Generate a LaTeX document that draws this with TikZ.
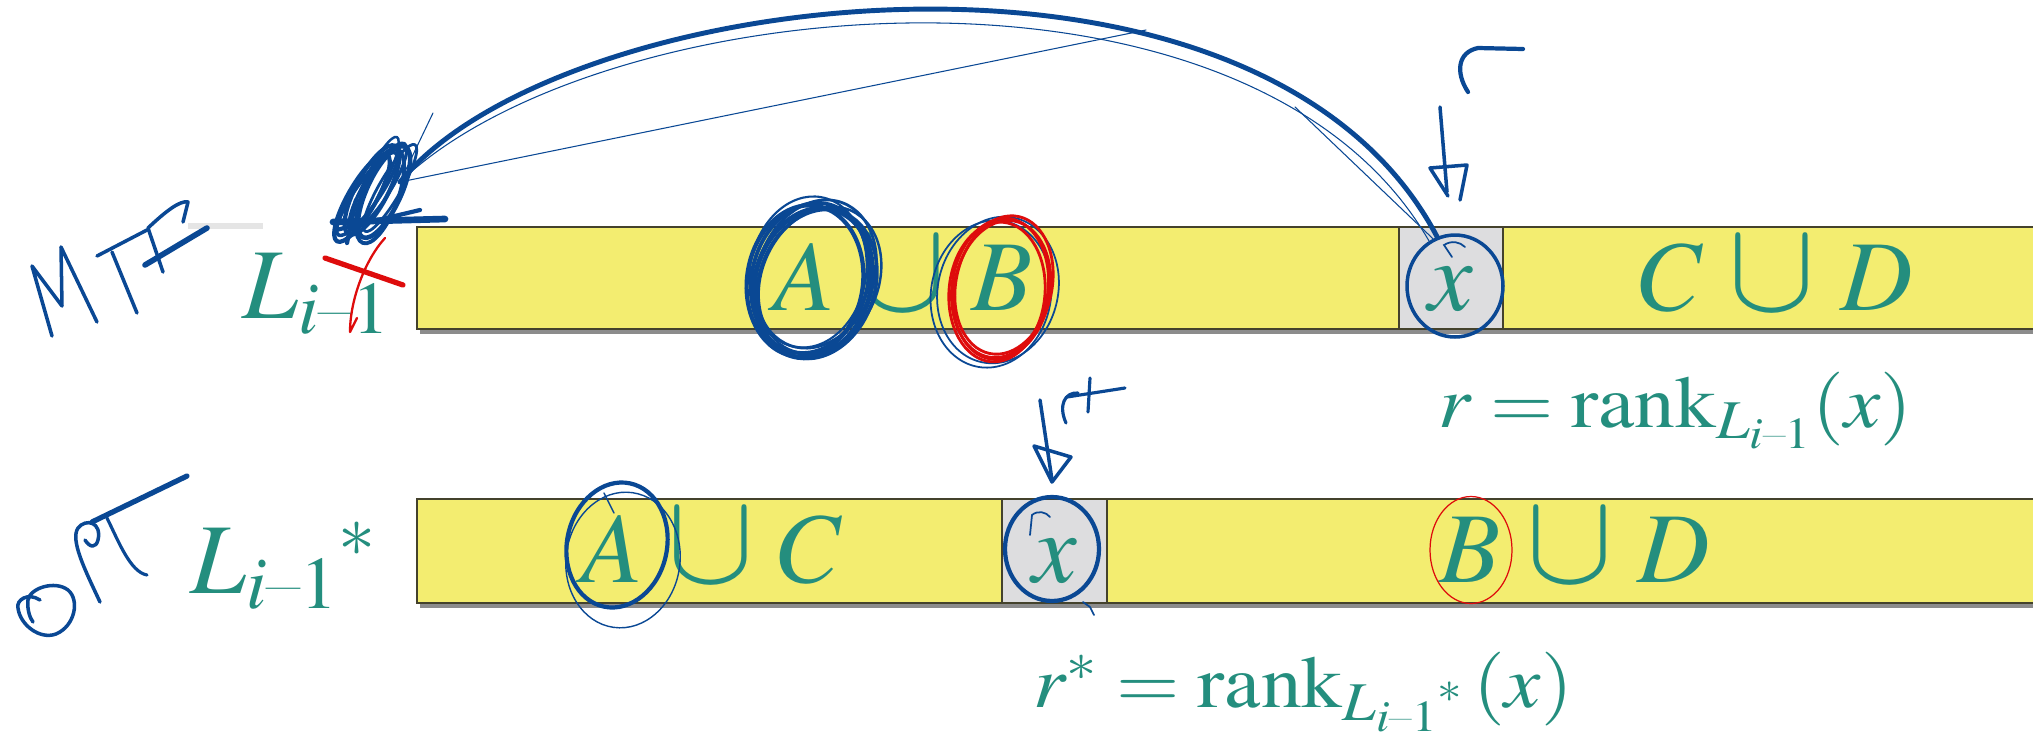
\documentclass[tikz,border=0pt]{standalone}
\usepackage{mathptmx}
\usepackage{amsmath}
\usepackage{graphicx}
\usepackage{xcolor}
\usepackage{tikz}
\usetikzlibrary{positioning,shapes.geometric}

\definecolor{barfill}{RGB}{243,237,112}
\definecolor{barline}{RGB}{68,66,44}
\definecolor{cellfill}{RGB}{221,221,223}
\definecolor{slidetext}{RGB}{36,142,126}
\definecolor{inkblue}{RGB}{10,72,148}
\definecolor{inkred}{RGB}{222,12,12}

\newcommand{\uni}{\mathbin{\mkern2mu\scalebox{1.3}{$\cup$}\mkern2mu}}
\newcommand{\imo}{i\text{--}1}

\begin{document}
\begin{tikzpicture}[
  x=0.02cm, y=-0.02cm,
  bar/.style={draw=barline, fill=barfill, line width=1.4pt},
  barshadow/.style={fill=black!45, draw=none},
  cell/.style={draw=barline, fill=cellfill, line width=1.4pt},
  lbl/.style={text=slidetext, inner sep=0pt, font=\fontsize{57}{60}\selectfont},
  eqn/.style={text=slidetext, inner sep=0pt, font=\fontsize{40}{44}\selectfont},
  ink/.style={draw=inkblue, line width=2.2pt, line cap=round, line join=round},
  thinink/.style={draw=inkblue, line width=0.6pt, line cap=round},
  redink/.style={draw=inkred, line width=1.6pt, line cap=round, line join=round},
  ring/.style={ellipse, draw=inkblue, line width=2pt, inner sep=0pt}
]
  \useasboundingbox[fill=white] (0,0) rectangle (2033,748);

  % the two lists
  \fill[barshadow] (420,232) rectangle (2040,334);
  \draw[bar] (417,227) rectangle (2040,329);
  \draw[cell] (1399,227) rectangle (1503,329);
  \fill[barshadow] (420,504) rectangle (2040,608);
  \draw[bar] (417,499) rectangle (2040,603);
  \draw[cell] (1002,499) rectangle (1107,603);
  \draw[black!10, line width=3pt] (188,226) -- (263,226);

  \node[lbl, anchor=base west] (ltop) at (242,318) {$L_{\imo}$};
  \node[lbl, anchor=base] (abtop) at (903,310) {$A\uni B$};
  \node[lbl, anchor=base] (xtop) at (1451,310) {$x$};
  \node[lbl, anchor=base] (cdtop) at (1776,310) {$C\uni D$};
  \node[eqn, anchor=base west] (rtop) at (1438,427) {\scalebox{1.16}[1.05]{$r=\mathrm{rank}_{L_{\imo}}(x)$}};

  \node[lbl, anchor=base west] (lbot) at (190,593) {${L_{\imo}}^{*}$};
  \node[lbl, anchor=base] (acbot) at (712,582) {$A\uni C$};
  \node[lbl, anchor=base] (xbot) at (1055,582) {$x$};
  \node[lbl, anchor=base] (bdbot) at (1575,582) {$B\uni D$};
  \node[eqn, anchor=base west] (rbot) at (1033,707) {\scalebox{1.16}[1.05]{$r^{*}=\mathrm{rank}_{{L_{\imo}}^{*}}\,(x)$}};

  % ink: rings
  \node[ring, minimum width=1.92cm, minimum height=2.04cm] (xtopring) at (1455,286) {};
  \node[ring, line width=2.4pt, minimum width=1.88cm, minimum height=2.08cm] (xbotring) at (1052,549) {};
  \node[ring, draw=inkred, line width=0.7pt, minimum width=1.64cm, minimum height=2.14cm] (bring) at (1471,550) {};

  \foreach \dx/\dy/\ang/\w in {0/0/-14/2.2, 6/-4/-20/1.6, -5/3/-8/2.4, 10/2/-24/1.4, 3/5/-16/2.8, -2/-6/-10/1.2, 7/6/-18/2}
    \draw[ink, line width=\w pt, shift={(810+\dx,278+\dy)}, rotate=\ang] (0,0) ellipse [x radius=58, y radius=76];
  \foreach \dx/\dy/\ang in {-4/2/-10, 3/-2/-14}
    \draw[thinink, line width=1pt, shift={(995+\dx,292+\dy)}, rotate=\ang] (0,0) ellipse [x radius=60, y radius=74];
  \foreach \dx/\dy/\ang in {0/0/-8, 4/-3/-12, -3/4/-5, 2/2/-10}
    \draw[redink, shift={(1000+\dx,288+\dy)}, rotate=\ang] (0,0) ellipse [x radius=48, y radius=70];
  \draw[ink, line width=2.4pt, shift={(617,545)}, rotate=-12] (0,0) ellipse [x radius=50, y radius=63];
  \draw[thinink, line width=0.8pt, shift={(623,560)}, rotate=-8] (0,0) ellipse [x radius=57, y radius=68];
  \draw[thinink, line width=0.8pt] (604,493) -- (614,513);
  \draw[thinink, line width=1pt] (1030,535) -- (1032,515) .. controls (1038,510) and (1046,512) .. (1050,517);
  \draw[thinink, line width=1pt] (1452,257) -- (1444,245) .. controls (1452,240) and (1460,242) .. (1465,247);
  \draw[thinink, line width=1pt] (1083,602) -- (1090,607) -- (1094,615);

  % ink: move to front
  \coordinate (mtf) at (400,182);
  \draw[ink, line width=2.8pt] (xtopring.110) .. controls (1260,-100) and (560,-15) .. (mtf);
  \draw[thinink] (xtopring.120) .. controls (1250,-70) and (600,-10) .. (mtf);
  \draw[thinink] (mtf) -- (1146,30);
  \draw[thinink] (1295,107) -- (xtopring.115);
  \draw[thinink] (mtf) -- (433,113);
  \foreach \dx/\dy/\ang/\rx/\w in {0/0/-28/16/2.4, 6/-4/-32/13/1.8, 12/2/-25/17/2.6, -5/4/-35/12/2, 18/-2/-30/11/1.6, 8/6/-20/18/2.2, -10/8/-30/14/2.4, 3/-8/-26/10/1.4}
    \draw[ink, line width=\w pt, shift={(372+\dx,190+\dy)}, rotate=\ang] (0,0) ellipse [x radius=\rx, y radius=50];
  \draw[ink, line width=3.8pt] (333,222) -- (445,219);
  \draw[ink, line width=2.4pt] (336,230) -- (420,210);
  \draw[ink, line width=2.4pt] (347,243) -- (356,200);
  \draw[redink, line width=3pt] (325,258) -- (403,285);
  \draw[redink, line width=1.3pt] (385,238) .. controls (365,260) and (350,300) .. (350,332) -- (357,318);

  % ink: words and pointers
  \draw[ink, line width=2pt] (52,336) -- (32,266) -- (62,306) -- (61,247) -- (97,322);
  \draw[ink, line width=2pt] (97,256) -- (147,230);
  \draw[ink, line width=2pt] (112,252) -- (137,313);
  \draw[ink, line width=2pt] (163,272) -- (148,228) .. controls (165,212) and (180,200) .. (188,202) -- (183,222);
  \draw[ink, line width=3.2pt] (145,265) -- (207,228);

  \draw[ink, line width=2pt] (40,600) .. controls (28,592) and (16,600) .. (18,608) .. controls (20,625) and (40,640) .. (56,634) .. controls (75,626) and (80,600) .. (68,590) .. controls (55,580) and (30,588) .. (28,600) .. controls (27,610) and (30,618) .. (33,622);
  \draw[ink, line width=2pt] (100,602) .. controls (85,570) and (70,540) .. (78,528) .. controls (86,518) and (102,522) .. (98,540) .. controls (96,548) and (90,548) .. (85,540);
  \draw[ink, line width=3pt] (92,522) -- (187,476);
  \draw[ink, line width=1.8pt] (107,518) .. controls (118,540) and (130,572) .. (147,575);

  \draw[ink, line width=2.4pt] (1468,92) .. controls (1455,72) and (1458,52) .. (1478,48) -- (1523,49);
  \draw[ink, line width=2pt] (1440,107) -- (1447,192);
  \draw[ink, line width=2pt] (1448,196) -- (1430,168) -- (1467,165) -- (1460,200);

  \draw[ink, line width=2pt] (1040,400) -- (1052,480);
  \draw[ink, line width=2pt] (1052,482) -- (1034,446) -- (1071,457) -- cycle;
  \draw[ink, line width=1.8pt] (1066,423) .. controls (1058,405) and (1065,392) .. (1078,393);
  \draw[ink, line width=1.8pt] (1067,397) -- (1125,388);
  \draw[ink, line width=1.8pt] (1090,378) -- (1088,412);
\end{tikzpicture}
\end{document}
